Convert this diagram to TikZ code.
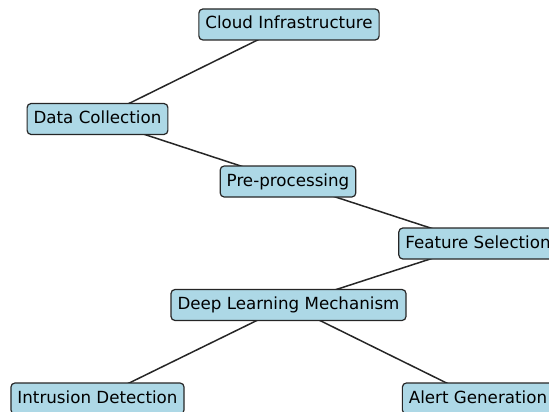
\documentclass[tikz,border=0pt]{standalone}
\usepackage{fontspec}
\setmainfont{DejaVu Sans}
\usepackage{xcolor}
\usetikzlibrary{backgrounds}

\definecolor{boxblue}{RGB}{173,216,230}

\begin{document}
\begin{tikzpicture}[
		x=1pt, y=-1pt,
		block/.style={
			draw=black!85,
			fill=boxblue,
			line width=1.2pt,
			rounded corners=4pt,
			inner xsep=6.5pt,
			inner ysep=0pt,
			minimum height=31pt,
			text height=12.5pt,
			text depth=3.5pt,
			font=\fontsize{16.7}{20}\selectfont
		},
		link/.style={line width=1.5pt, draw=black!85}
		]
		
		% Canvas
		\useasboundingbox (0,0) rectangle (549,412);
		\clip (0,0) rectangle (549,412);
		
		% Top level
		\node[block] (cloud) at (289,24.5) {Cloud Infrastructure};
		\node[block] (collect) at (97.5,119) {Data Collection};
		
		% Processing chain
		\node[block] (preproc) at (288,181.5) {Pre-processing};
		\node[block] (select) at (478,243.5) {Feature Selection};
		\node[block] (deep) at (288.5,305) {Deep Learning Mechanism};
		
		% Outputs
		\node[block] (intrusion) at (97.5,398.5) {Intrusion Detection};
		\node[block] (alert) at (478,398.5) {Alert Generation};
		
		% Links
		\begin{pgfonlayer}{background}
			\draw[link] (cloud.center) -- (collect.center);
			\draw[link] (collect.center) -- (preproc.center);
			\draw[link] (preproc.center) -- (select.center);
			\draw[link] (select.center) -- (deep.center);
			\draw[link] (deep.center) -- (intrusion.center);
			\draw[link] (deep.center) -- (alert.center);
		\end{pgfonlayer}
		
	\end{tikzpicture}
\end{document}
